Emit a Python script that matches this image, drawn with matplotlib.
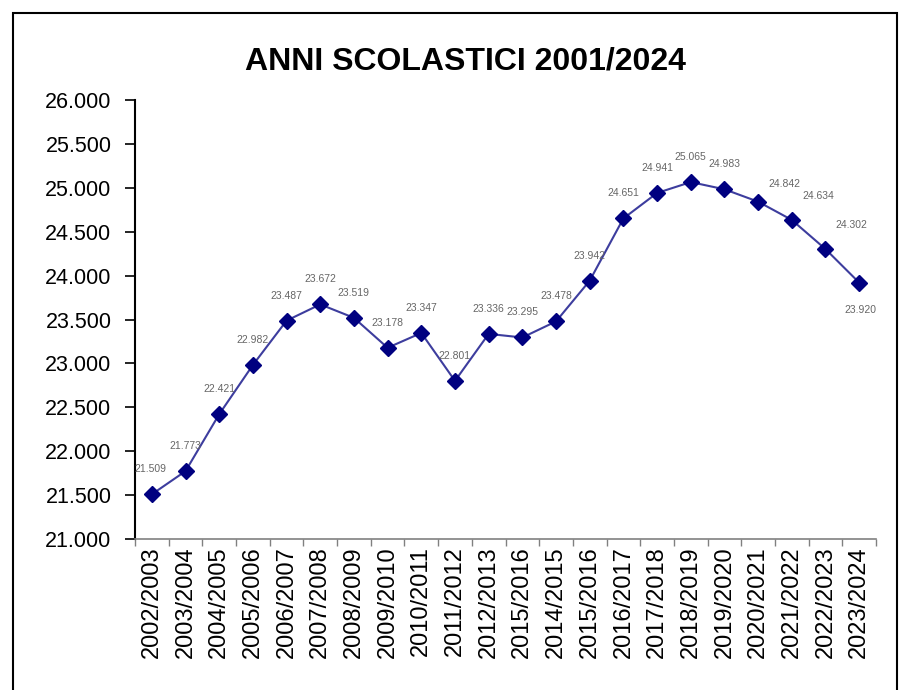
import matplotlib
matplotlib.use("Agg")
import matplotlib.pyplot as plt
from matplotlib.patches import Rectangle
from matplotlib.ticker import FuncFormatter, FixedLocator, NullFormatter

anni = ['2002/2003', '2003/2004', '2004/2005', '2005/2006', '2006/2007', '2007/2008',
        '2008/2009', '2009/2010', '2010/2011', '2011/2012', '2012/2013', '2015/2016',
        '2014/2015', '2015/2016', '2016/2017', '2017/2018', '2018/2019', '2019/2020',
        '2020/2021', '2021/2022', '2022/2023', '2023/2024']
valori = [21509, 21773, 22421, 22982, 23487, 23672, 23519, 23178, 23347, 22801, 23336,
          23295, 23478, 23942, 24651, 24941, 25065, 24983, 24842, 24634, 24302, 23920]

# spostamento etichette (punti)
off_x = [-1] + [0] * 17 + [19, 19, 19, 1]
off_y = [18] * 18 + [13, 17, 17, -20]

plt.rcParams['font.family'] = ['Liberation Sans', 'DejaVu Sans']

fig = plt.figure(figsize=(8.99, 6.90), dpi=100)
fig.patches.append(Rectangle((13 / 899, -0.1), (897 - 13) / 899, 1.1 - 13 / 690,
                             transform=fig.transFigure, fill=False,
                             edgecolor='black', linewidth=1.5))

ax = fig.add_axes([135 / 899, 1 - 539 / 690, (876 - 135) / 899, (539 - 100) / 690])
x = list(range(len(anni)))
ax.plot(x, valori, color='#3d3d9e', linewidth=1.5, marker='D', markersize=8.5,
        markerfacecolor='#000080', markeredgecolor='#000080', zorder=3)

for i, v in enumerate(valori):
    ax.annotate(f"{v:,}".replace(',', '.'), (i, v), xytext=(off_x[i], off_y[i]),
                textcoords='offset points', ha='center', va='center',
                fontsize=7.5, color='#666666')

ax.set_xlim(-0.5, len(anni) - 0.5)
ax.set_ylim(21000, 26000)
ax.set_yticks(range(21000, 26001, 500))
ax.yaxis.set_major_formatter(FuncFormatter(lambda v, p: f"{int(v):,}".replace(',', '.')))
ax.tick_params(axis='y', labelsize=15.5, length=7, width=1.2, direction='out', pad=10)

ax.set_xticks(x)
ax.set_xticklabels(anni, rotation=90, fontsize=17)
ax.tick_params(axis='x', which='major', length=0, pad=5)
ax.xaxis.set_minor_locator(FixedLocator([i - 0.5 for i in range(len(anni) + 1)]))
ax.xaxis.set_minor_formatter(NullFormatter())
ax.tick_params(axis='x', which='minor', length=5, width=1, color='#808080', direction='out')

for s in ['top', 'right']:
    ax.spines[s].set_visible(False)
ax.spines['left'].set_linewidth(1.5)
ax.spines['bottom'].set_color('#808080')
ax.spines['bottom'].set_linewidth(1.2)

fig.text(465 / 899, 1 - 62 / 690, 'ANNI SCOLASTICI 2001/2024', ha='center', va='center',
         fontsize=23, fontweight='bold')

fig.savefig('out.png', dpi=100)
